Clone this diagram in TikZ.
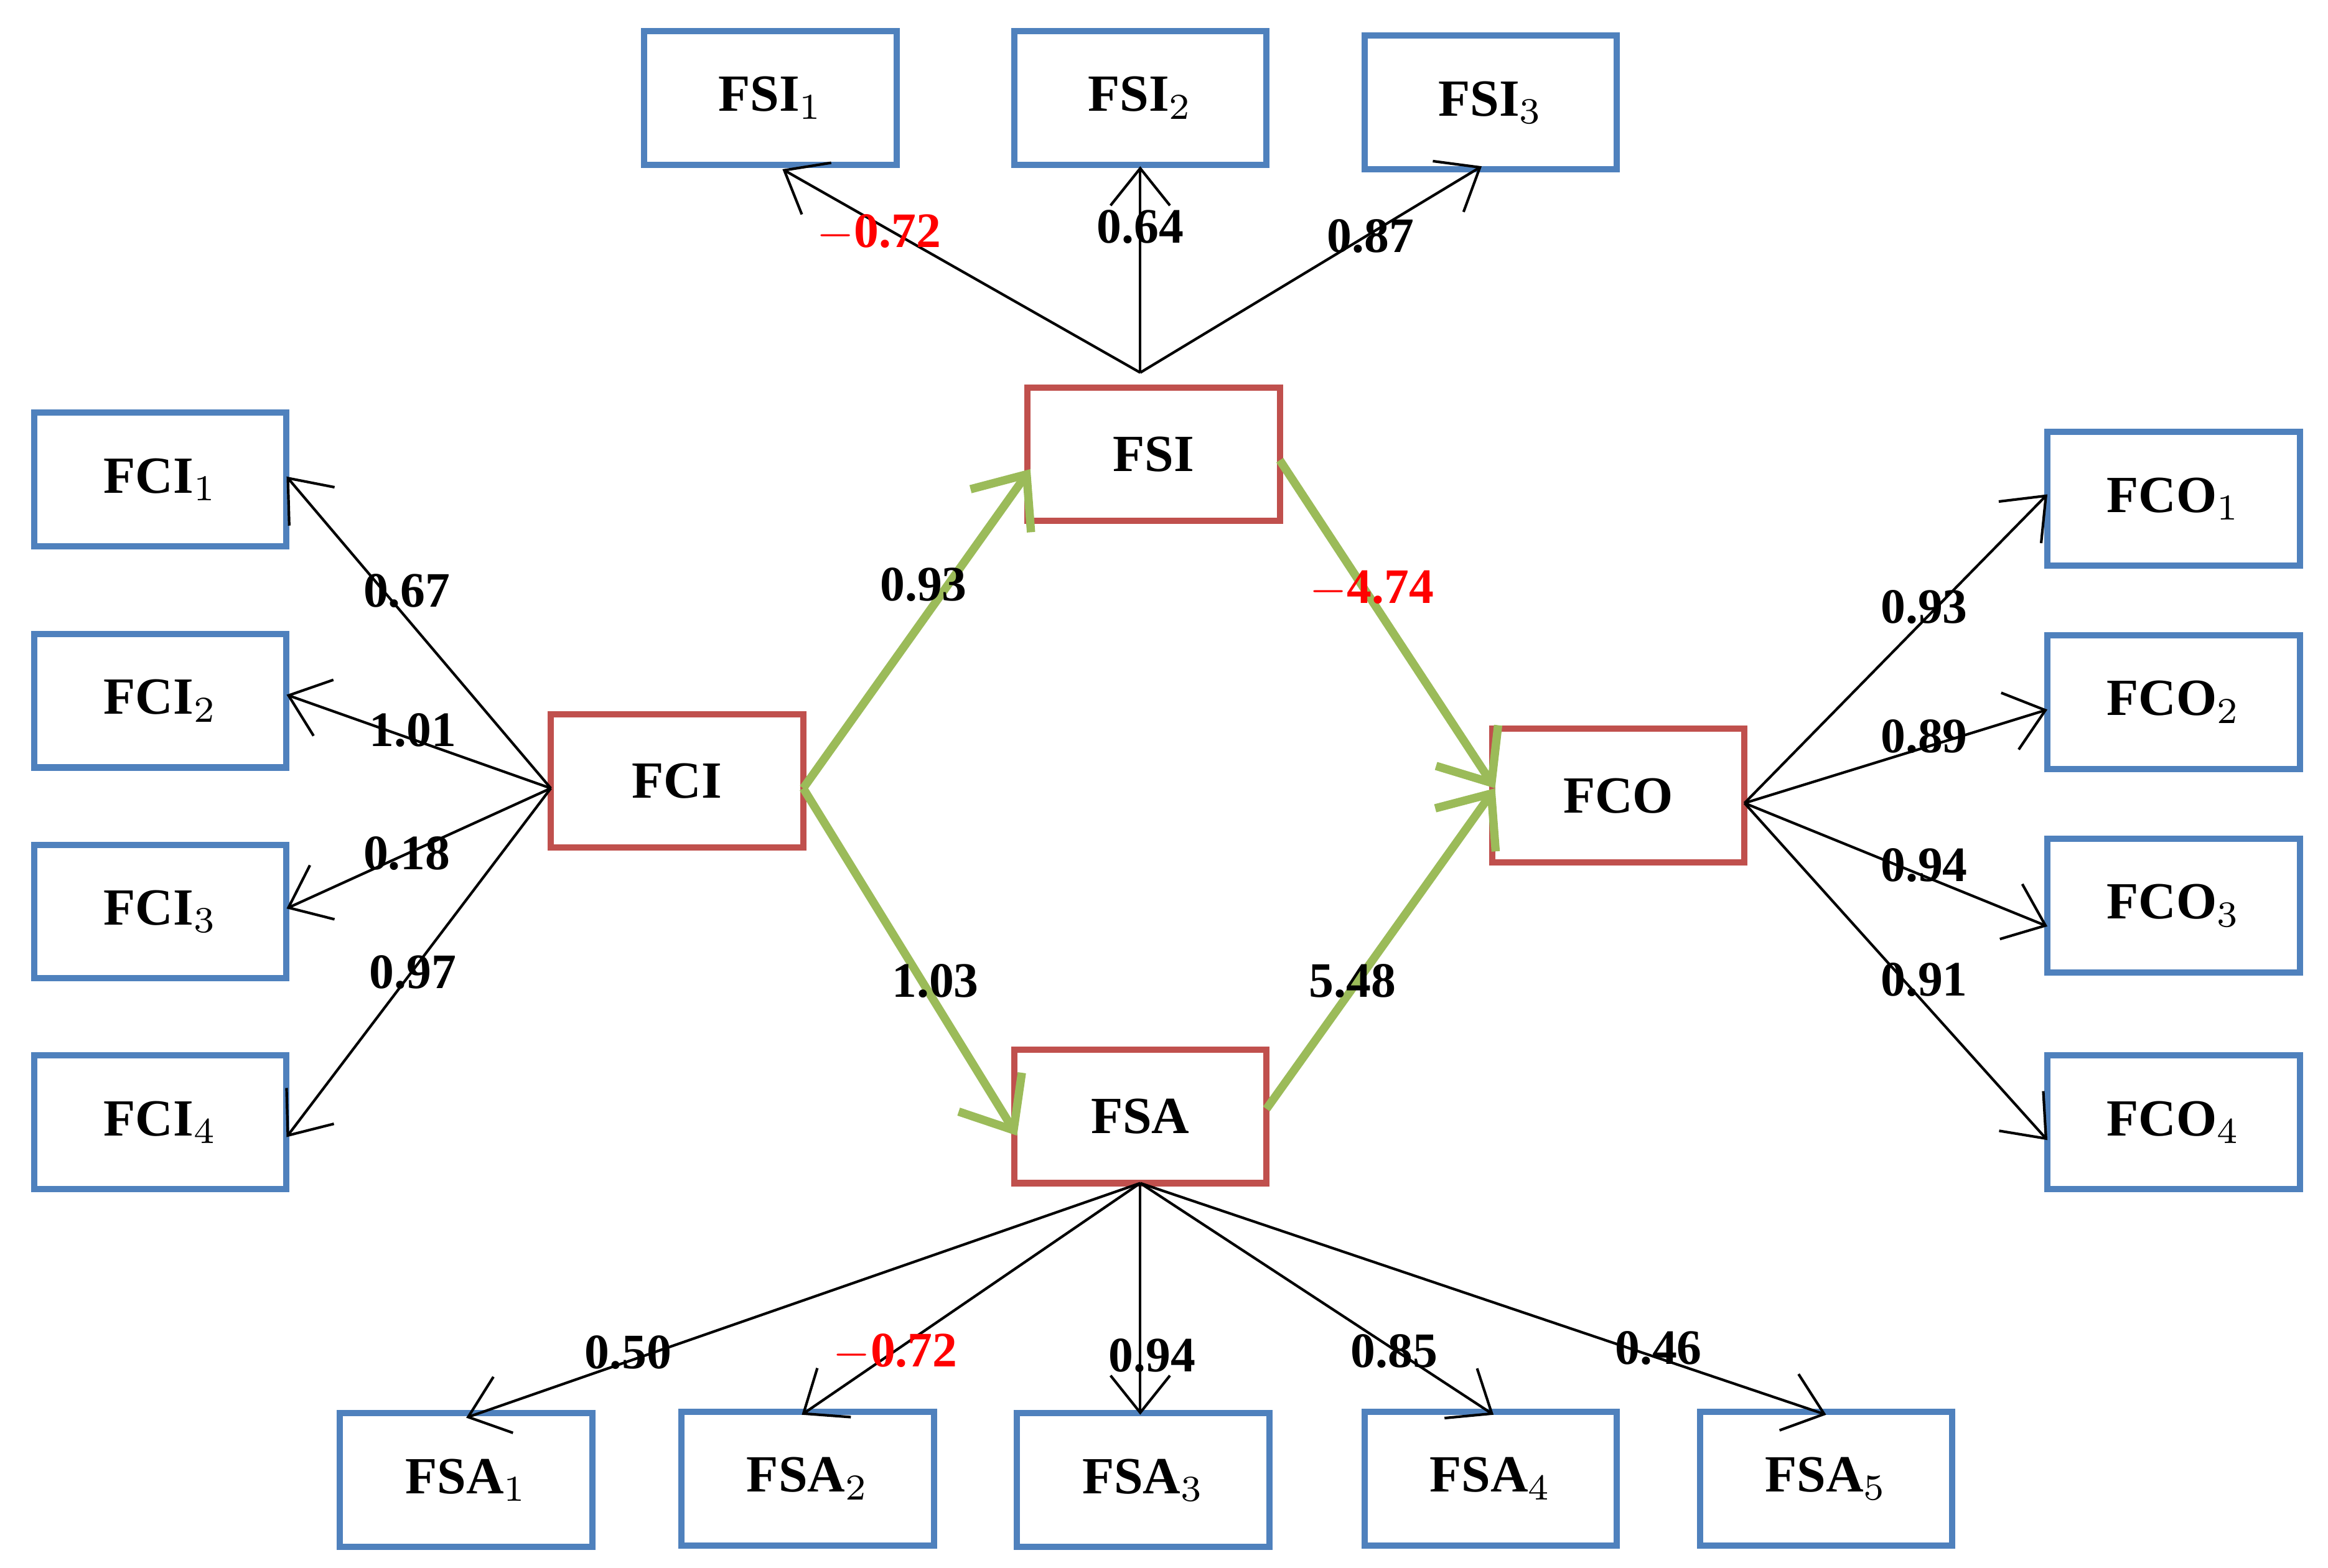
\documentclass[tikz,border=0pt]{standalone}
\usepackage{fontspec}
\setmainfont{Liberation Serif}
\usetikzlibrary{arrows.meta}
\begin{document}
\begin{tikzpicture}[x=0.1mm,y=-0.1mm,
 ind/.style={draw=blue!50!cyan!60!black!80, draw={rgb,255:red,79;green,129;blue,189}, line width=1.2pt, minimum width=17mm, minimum height=9mm, font=\fontsize{10}{12}\selectfont\bfseries, fill=white},
 lat/.style={draw={rgb,255:red,192;green,80;blue,77}, line width=1.2pt, minimum width=17mm, minimum height=9mm, font=\fontsize{10}{12}\selectfont\bfseries, fill=white},
 ar/.style={-{Straight Barb[length=2.5mm,width=4mm]}, line width=0.5pt},
 gr/.style={-{Straight Barb[length=3mm,width=5mm]}, line width=1.6pt, draw={rgb,255:red,155;green,187;blue,89}},
 lb/.style={font=\fontsize{9.5}{11}\selectfont\bfseries, inner sep=0pt},
 neg/.style={lb, text=red}]
\useasboundingbox (0,0) rectangle (1568,1056);
\node[ind] (si1) at (519,66) {FSI$_1$};
\node[ind] (si2) at (768,66) {FSI$_2$};
\node[ind] (si3) at (1004,69) {FSI$_3$};
\node[lat] (fsi) at (777,306) {FSI};
\node[ind] (ci1) at (108,323) {FCI$_1$};
\node[ind] (ci2) at (108,472) {FCI$_2$};
\node[ind] (ci3) at (108,614) {FCI$_3$};
\node[ind] (ci4) at (108,756) {FCI$_4$};
\node[lat] (fci) at (456,526) {FCI};
\node[lat] (fco) at (1090,536) {FCO};
\node[lat] (fsa) at (768,752) {FSA};
\node[ind] (co1) at (1464,336) {FCO$_1$};
\node[ind] (co2) at (1464,473) {FCO$_2$};
\node[ind] (co3) at (1464,610) {FCO$_3$};
\node[ind] (co4) at (1464,756) {FCO$_4$};
\node[ind] (sa1) at (314,997) {FSA$_1$};
\node[ind] (sa2) at (544,996) {FSA$_2$};
\node[ind] (sa3) at (770,997) {FSA$_3$};
\node[ind] (sa4) at (1004,996) {FSA$_4$};
\node[ind] (sa5) at (1230,996) {FSA$_5$};
\coordinate (st) at (768,251);
\coordinate (cw) at (371,531);
\coordinate (ce) at (1175,541);
\coordinate (sb) at (768,797);
\draw[ar] (st) -- (527,114);
\draw[ar] (st) -- (768,112);
\draw[ar] (st) -- (998,112);
\draw[ar] (cw) -- (193,321);
\draw[ar] (cw) -- (193,468);
\draw[ar] (cw) -- (193,612);
\draw[ar] (cw) -- (193,766);
\draw[ar] (ce) -- (1379,333);
\draw[ar] (ce) -- (1379,478);
\draw[ar] (ce) -- (1379,624);
\draw[ar] (ce) -- (1379,768);
\draw[ar] (sb) -- (314,955);
\draw[ar] (sb) -- (540,953);
\draw[ar] (sb) -- (768,953);
\draw[ar] (sb) -- (1006,953);
\draw[ar] (sb) -- (1230,953);
\draw[gr] (541,531) -- (694,316);
\draw[gr] (862,310) -- (1007,531);
\draw[gr] (541,531) -- (685,765);
\draw[gr] (853,747) -- (1007,531);
\node[neg] at (592,157) {$-$0.72};
\node[lb] at (768,153) {0.64};
\node[lb] at (923,159) {0.87};
\node[lb] at (274,398) {0.67};
\node[lb] at (278,492) {1.01};
\node[lb] at (274,575) {0.18};
\node[lb] at (278,655) {0.97};
\node[lb] at (622,394) {0.93};
\node[neg] at (924,397) {$-$4.74};
\node[lb] at (630,661) {1.03};
\node[lb] at (911,661) {5.48};
\node[lb] at (1296,409) {0.93};
\node[lb] at (1296,496) {0.89};
\node[lb] at (1296,583) {0.94};
\node[lb] at (1296,660) {0.91};
\node[lb] at (423,911) {0.50};
\node[neg] at (603,911) {$-$0.72};
\node[lb] at (776,913) {0.94};
\node[lb] at (939,910) {0.85};
\node[lb] at (1117,908) {0.46};
\end{tikzpicture}
\end{document}
